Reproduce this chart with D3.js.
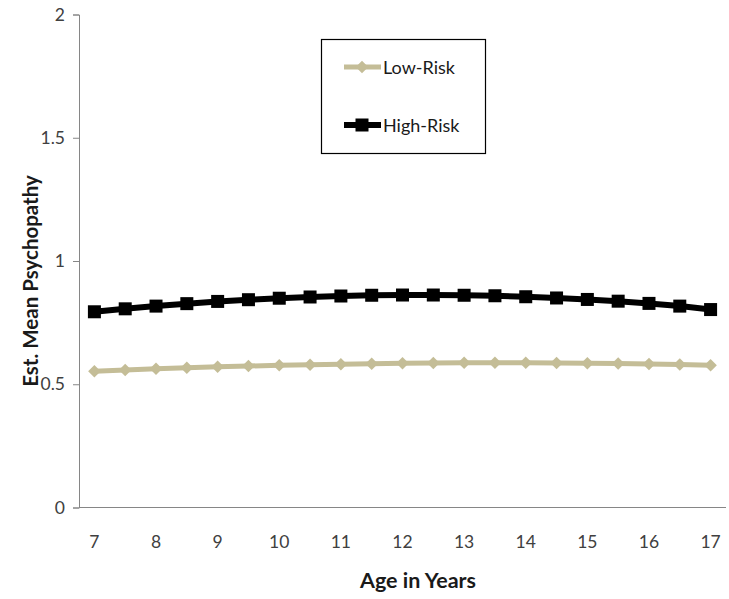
<!DOCTYPE html>
<html>
<head>
<meta charset="utf-8">
<script src="https://cdn.jsdelivr.net/npm/d3@7"></script>
<style>
  body { margin: 0; background: #fff; }
  svg { display: block; font-family: Lato, "Open Sans", sans-serif; }
</style>
</head>
<body>
<svg id="chart" width="729" height="599"></svg>
<script>
const ages = [7, 7.5, 8, 8.5, 9, 9.5, 10, 10.5, 11, 11.5, 12, 12.5, 13, 13.5, 14, 14.5, 15, 15.5, 16, 16.5, 17];
const ageLabels = ["7", "8", "9", "10", "11", "12", "13", "14", "15", "16", "17"];
const lowRisk = [0.553, 0.558, 0.563, 0.567, 0.571, 0.574, 0.577, 0.579, 0.581, 0.583, 0.585, 0.586, 0.587, 0.587, 0.587, 0.586, 0.585, 0.584, 0.582, 0.580, 0.577];
const highRisk = [0.794, 0.806, 0.817, 0.827, 0.836, 0.843, 0.849, 0.854, 0.858, 0.861, 0.862, 0.862, 0.861, 0.859, 0.855, 0.850, 0.844, 0.837, 0.828, 0.817, 0.803];
const yTicks = [0, 0.5, 1, 1.5, 2];
const seriesNames = ["Low-Risk", "High-Risk"];

const svg = d3.select("#chart");
const mLeft = 79, mRight = 726, mTop = 14.5, mBottom = 507.5;

const x = d3.scaleBand().domain(ages).range([mLeft, mRight]).padding(0);
const y = d3.scaleLinear().domain([0, 2]).range([mBottom, mTop]);
const cx = a => x(a) + x.bandwidth() / 2;

const axisColor = "#868686";
const textColor = "#404040";

// Y axis
const yAxis = svg.append("g").attr("transform", `translate(${mLeft},0)`)
  .call(d3.axisLeft(y).tickValues(yTicks).tickFormat(d => String(d)).tickSize(6).tickPadding(8));
yAxis.select(".domain").attr("stroke", axisColor);
yAxis.selectAll(".tick line").attr("stroke", axisColor);
yAxis.selectAll(".tick text").attr("fill", textColor).style("font-size", "17.5px").style("font-family", "Lato, sans-serif");

// X axis
const xAxis = svg.append("g").attr("transform", `translate(0,${mBottom})`)
  .call(d3.axisBottom(x).tickValues(ages.filter(a => Number.isInteger(a)))
    .tickFormat(d => ageLabels[ageLabels.indexOf(String(d))]).tickSize(0).tickPadding(28));
xAxis.select(".domain").attr("stroke", axisColor).attr("d", `M${mLeft},0H${mRight}`);
xAxis.selectAll(".tick text").attr("fill", textColor).style("font-size", "17.5px").style("font-family", "Lato, sans-serif");

// Axis titles
svg.append("text").attr("x", 418).attr("y", 588).attr("text-anchor", "middle")
  .style("font-size", "21.5px").style("font-weight", "bold").attr("fill", "#1a1a1a").text("Age in Years");
svg.append("text").attr("transform", `translate(38,281) rotate(-90)`).attr("text-anchor", "middle")
  .style("font-size", "20.5px").style("font-weight", "bold").attr("fill", "#1a1a1a").text("Est. Mean Psychopathy");

const line = d3.line().x((d, i) => cx(ages[i])).y(d => y(d));
const tan = "#C4BD97";

// Low-risk
svg.append("path").datum(lowRisk).attr("d", line).attr("fill", "none").attr("stroke", tan).attr("stroke-width", 5);
svg.append("g").selectAll("path").data(lowRisk).join("path")
  .attr("d", d3.symbol(d3.symbolDiamond2, 100))
  .attr("transform", (d, i) => `translate(${cx(ages[i])},${y(d)})`)
  .attr("fill", tan);

// High-risk
svg.append("path").datum(highRisk).attr("d", line).attr("fill", "none").attr("stroke", "#000").attr("stroke-width", 6);
svg.append("g").selectAll("rect").data(highRisk).join("rect")
  .attr("x", (d, i) => cx(ages[i]) - 6.5).attr("y", d => y(d) - 6.5)
  .attr("width", 13).attr("height", 13).attr("fill", "#000");

// Legend
const lg = svg.append("g");
lg.append("rect").attr("x", 321.5).attr("y", 39.5).attr("width", 164).attr("height", 114)
  .attr("fill", "#fff").attr("stroke", "#000").attr("stroke-width", 1.2);
const legendItems = [
  { name: seriesNames[0], color: tan, sym: "diamond", yy: 67 },
  { name: seriesNames[1], color: "#000", sym: "square", yy: 125 }
];
legendItems.forEach(it => {
  lg.append("line").attr("x1", 344).attr("x2", 381).attr("y1", it.yy).attr("y2", it.yy)
    .attr("stroke", it.color).attr("stroke-width", it.sym === "square" ? 6 : 5);
  if (it.sym === "diamond") {
    lg.append("path").attr("d", d3.symbol(d3.symbolDiamond2, 100)).attr("transform", `translate(362,${it.yy})`).attr("fill", it.color);
  } else {
    lg.append("rect").attr("x", 355.5).attr("y", it.yy - 6.5).attr("width", 13).attr("height", 13).attr("fill", it.color);
  }
  lg.append("text").attr("x", 383).attr("y", it.yy + 6.5).style("font-size", "18px").attr("fill", "#1a1a1a").text(it.name);
});
</script>
</body>
</html>
